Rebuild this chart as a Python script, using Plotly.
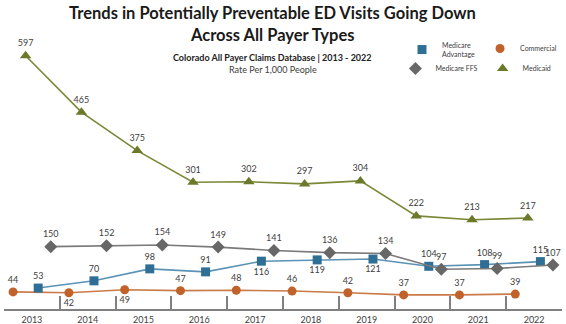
import plotly.graph_objects as go

years = ["2013", "2014", "2015", "2016", "2017", "2018", "2019", "2020", "2021", "2022"]
commercial = [44, 42, 49, 47, 48, 46, 42, 37, 37, 39]
medicaid = [597, 465, 375, 301, 302, 297, 304, 222, 213, 217]
medicare_adv = [53, 70, 98, 91, 116, 119, 121, 104, 108, 115]
medicare_ffs = [150, 152, 154, 149, 141, 136, 134, 97, 99, 107]

series = [
    dict(name="Commercial", y=commercial, color="#C0622A", line="#C97A48", symbol="circle", size=9,
         pos=["top center", "bottom center", "bottom center"] + ["top center"] * 7,
         legend="legend", rank=2),
    dict(name="Medicaid", y=medicaid, color="#6B7A2A", line="#7A8838", symbol="triangle-up", size=10,
         pos=["top center"] * 10, legend="legend2", rank=2),
    dict(name="Medicare<br>Advantage", y=medicare_adv, color="#2F6F95", line="#5A93B5", symbol="square", size=9,
         pos=["top center"] * 4 + ["bottom center"] * 3 + ["top center"] * 3,
         legend="legend", rank=1),
    dict(name="Medicare FFS", y=medicare_ffs, color="#676767", line="#7A7A7A", symbol="diamond", size=10,
         pos=["top center"] * 10, legend="legend2", rank=1),
]

fig = go.Figure()
for i, s in enumerate(series):
    fig.add_trace(go.Scatter(
        x=years, y=s["y"], mode="lines", line=dict(color=s["line"], width=1.6),
        offsetgroup=str(i), showlegend=False, hoverinfo="skip"))
    fig.add_trace(go.Scatter(
        x=years, y=s["y"], mode="markers+text", name=s["name"],
        marker=dict(symbol=s["symbol"], size=s["size"], color=s["color"]),
        text=[str(v) for v in s["y"]], textposition=s["pos"],
        textfont=dict(size=9, color="#404040", family="Lato"), cliponaxis=False,
        offsetgroup=str(i), legend=s["legend"], legendrank=s["rank"]))

leg_common = dict(orientation="h", xanchor="right", yanchor="middle",
                  font=dict(size=7, color="#404040", family="Lato"), bgcolor="rgba(0,0,0,0)",
                  itemsizing="trace", itemwidth=30, borderwidth=0)

fig.update_layout(
    width=566, height=324,
    margin=dict(l=4, r=4, t=40, b=15),
    paper_bgcolor="white", plot_bgcolor="white",
    scattermode="group", scattergap=0.1,
    font=dict(family="Lato", color="#404040"),
    xaxis=dict(type="category", showline=True, linecolor="#808080", linewidth=1.5,
               ticks="inside", tickson="boundaries", ticklen=13, tickcolor="#808080", tickwidth=1.5,
               ticklabelstandoff=1, automargin=False,
               showgrid=False, tickfont=dict(size=9, color="#404040", family="Lato")),
    yaxis=dict(visible=False, range=[4, 634]),
    legend=dict(leg_common, x=1.0, y=0.963),
    legend2=dict(leg_common, x=0.99, y=0.894),
    annotations=[
        dict(text="<b>Trends in Potentially Preventable ED Visits Going Down</b>", xref="paper", yref="paper",
             x=0.482, y=1.100, xanchor="center", yanchor="middle", showarrow=False,
             font=dict(size=16.5, color="#1a1a1a", family="Lato")),
        dict(text="<b>Across All Payer Types</b>", xref="paper", yref="paper",
             x=0.482, y=1.0186, xanchor="center", yanchor="middle", showarrow=False,
             font=dict(size=16.5, color="#1a1a1a", family="Lato")),
        dict(text="<b>Colorado All Payer Claims Database | 2013 - 2022</b>", xref="paper", yref="paper",
             x=0.482, y=0.9368, xanchor="center", yanchor="middle", showarrow=False,
             font=dict(size=9, color="#222222", family="Lato")),
        dict(text="Rate Per 1,000 People", xref="paper", yref="paper",
             x=0.482, y=0.8885, xanchor="center", yanchor="middle", showarrow=False,
             font=dict(size=9, color="#404040", family="Lato")),
    ],
)

fig.write_html("out.html")
